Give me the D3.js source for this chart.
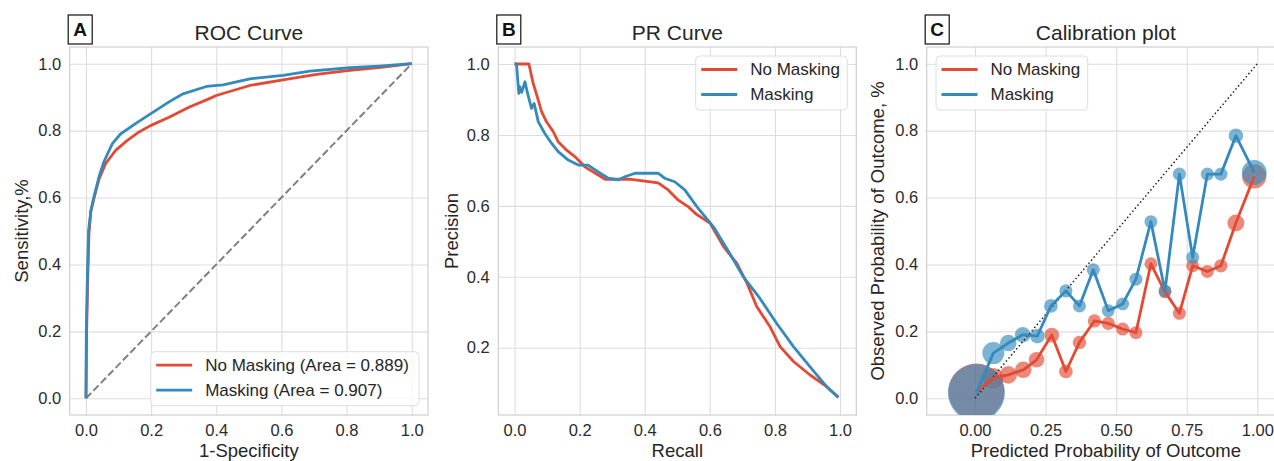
<!DOCTYPE html>
<html lang="en">
<head>
<meta charset="UTF-8">
<title>ROC / PR / Calibration</title>
<style>
    body { margin: 0; background: #fff; }
    svg { display: block; font-family: "Liberation Sans", Arial, sans-serif; }
    .tick text { fill: #2b2b2b; font-size: 16.5px; }
    .tick line { stroke: #dddddd; stroke-width: 1.1; }
    .domain { display: none; }
</style>
</head>
<body>
<script src="https://d3js.org/d3.v7.min.js"></script>
<script>
// ---- ROC curve ----
const rocFprNoMask = [0, 0.002, 0.005, 0.009, 0.015, 0.025, 0.04, 0.06, 0.091, 0.127, 0.163, 0.198, 0.255, 0.316, 0.377, 0.40, 0.503, 0.605, 0.708, 0.81, 0.912, 1.0];
const rocTprNoMask = [0, 0.2, 0.34, 0.49, 0.56, 0.6, 0.655, 0.701, 0.741, 0.771, 0.796, 0.815, 0.84, 0.87, 0.895, 0.905, 0.935, 0.952, 0.968, 0.98, 0.99, 1.0];
const rocFprMask = [0, 0.001, 0.004, 0.008, 0.015, 0.0245, 0.04, 0.055, 0.081, 0.106, 0.152, 0.198, 0.255, 0.298, 0.37, 0.421, 0.503, 0.605, 0.687, 0.81, 0.9, 1.0];
const rocTprMask = [0, 0.2, 0.352, 0.502, 0.56, 0.602, 0.662, 0.707, 0.761, 0.79, 0.821, 0.85, 0.886, 0.91, 0.932, 0.937, 0.955, 0.965, 0.978, 0.988, 0.993, 1.0];
const aucNoMask = 0.889;
const aucMask = 0.907;

// ---- PR curve ----
const prRecallNoMask = [0, 0.044, 0.057, 0.068, 0.083, 0.098, 0.119, 0.134, 0.16, 0.185, 0.216, 0.257, 0.278, 0.308, 0.359, 0.40, 0.441, 0.472, 0.503, 0.533, 0.559, 0.601, 0.642, 0.683, 0.714, 0.744, 0.785, 0.816, 0.857, 0.908, 0.959, 0.995];
const prPrecNoMask = [1.0, 1.0, 0.946, 0.913, 0.866, 0.837, 0.809, 0.781, 0.757, 0.739, 0.71, 0.687, 0.675, 0.675, 0.675, 0.67, 0.665, 0.645, 0.616, 0.598, 0.576, 0.551, 0.485, 0.438, 0.382, 0.316, 0.259, 0.203, 0.161, 0.123, 0.09, 0.06];
const prRecallMask = [0, 0.006, 0.013, 0.016, 0.022, 0.032, 0.04, 0.052, 0.06, 0.073, 0.093, 0.114, 0.134, 0.165, 0.196, 0.226, 0.257, 0.288, 0.318, 0.339, 0.37, 0.41, 0.441, 0.461, 0.492, 0.523, 0.56, 0.611, 0.652, 0.703, 0.754, 0.805, 0.857, 0.908, 0.959, 0.995];
const prPrecMask = [1.0, 1.0, 0.917, 0.936, 0.92, 0.95, 0.917, 0.875, 0.889, 0.837, 0.804, 0.776, 0.753, 0.729, 0.715, 0.715, 0.696, 0.678, 0.673, 0.682, 0.692, 0.692, 0.692, 0.678, 0.668, 0.645, 0.598, 0.541, 0.48, 0.40, 0.339, 0.269, 0.203, 0.146, 0.09, 0.06];

// ---- Calibration (mean predicted, observed fraction, bin count) ----
const calPredNoMask = [0.005, 0.065, 0.118, 0.171, 0.218, 0.272, 0.322, 0.37, 0.423, 0.472, 0.523, 0.57, 0.623, 0.673, 0.724, 0.771, 0.823, 0.871, 0.924, 0.989];
const calObsNoMask = [0.02, 0.06, 0.07, 0.085, 0.115, 0.189, 0.08, 0.167, 0.231, 0.224, 0.207, 0.196, 0.402, 0.318, 0.254, 0.396, 0.379, 0.396, 0.524, 0.663];
const calCountNoMask = [2180, 290, 215, 190, 170, 150, 130, 125, 122, 120, 118, 118, 116, 115, 118, 116, 118, 122, 200, 410];
const calPredMask = [0.005, 0.065, 0.118, 0.169, 0.221, 0.269, 0.322, 0.37, 0.419, 0.472, 0.523, 0.57, 0.623, 0.673, 0.724, 0.771, 0.823, 0.871, 0.924, 0.989];
const calObsMask = [0.017, 0.135, 0.165, 0.19, 0.186, 0.276, 0.321, 0.276, 0.384, 0.262, 0.282, 0.356, 0.528, 0.321, 0.67, 0.421, 0.67, 0.67, 0.785, 0.675];
const calCountMask = [2260, 336, 190, 170, 150, 130, 120, 118, 118, 116, 115, 118, 116, 115, 118, 116, 118, 120, 145, 430];

const seriesNames = ["No Masking", "Masking"];
const colors = ["#E24A33", "#348ABD"];

const ticks10 = [0, 0.2, 0.4, 0.6, 0.8, 1.0];
const ticksPR = [0.2, 0.4, 0.6, 0.8, 1.0];
const ticksCal = [0, 0.25, 0.5, 0.75, 1.0];

const svg = d3.select("body").append("svg").attr("width", 1274).attr("height", 461);
const txt = "#262626";

function zip(a, b) { return a.map((v, i) => [v, b[i]]); }

function panel(o) {
    const x = d3.scaleLinear().domain(o.xd).range([o.left, o.right]);
    const y = d3.scaleLinear().domain(o.yd).range([o.bottom, o.top]);
    const g = svg.append("g");
    const h = o.bottom - o.top, w = o.right - o.left;

    g.append("g").attr("transform", `translate(0,${o.bottom})`)
        .call(d3.axisBottom(x).tickValues(o.xt).tickFormat(d3.format(o.xf)).tickSize(-h).tickPadding(9));
    g.append("g").attr("transform", `translate(${o.left},0)`)
        .call(d3.axisLeft(y).tickValues(o.yt).tickFormat(d3.format(".1f")).tickSize(-w).tickPadding(8.5));

    g.append("rect").attr("x", o.left).attr("y", o.top).attr("width", w).attr("height", h)
        .attr("fill", "none").attr("stroke", "#cfcfcf").attr("stroke-width", 1.2);

    const clipId = "clip" + o.id;
    svg.append("clipPath").attr("id", clipId).append("rect")
        .attr("x", o.left).attr("y", o.top).attr("width", w).attr("height", h);
    const plot = g.append("g").attr("clip-path", `url(#${clipId})`);

    // titles and labels
    const cx = (o.left + o.right) / 2;
    g.append("text").attr("x", cx).attr("y", 40).attr("text-anchor", "middle")
        .attr("font-size", 21).attr("fill", txt).text(o.title);
    g.append("text").attr("x", cx).attr("y", 457).attr("text-anchor", "middle")
        .attr("font-size", 18.5).attr("fill", txt).text(o.xlabel);
    g.append("text").attr("transform", `translate(${o.ylx},${(o.top + o.bottom) / 2}) rotate(-90)`)
        .attr("text-anchor", "middle").attr("font-size", 18.5).attr("fill", txt).text(o.ylabel);

    // panel letter
    g.append("rect").attr("x", o.left - 1.5).attr("y", 15).attr("width", 24).attr("height", 29)
        .attr("fill", "#fff").attr("stroke", "#111").attr("stroke-width", 1.2);
    g.append("text").attr("x", o.left + 10.5).attr("y", 35.5).attr("text-anchor", "middle")
        .attr("font-size", 19).attr("font-weight", "bold").attr("fill", "#111").text(o.letter);

    return { g, plot, x, y };
}

function legend(g, lx, ly, w, labels) {
    g.append("rect").attr("x", lx).attr("y", ly).attr("width", w).attr("height", 54)
        .attr("rx", 4).attr("fill", "#fff").attr("fill-opacity", 0.8)
        .attr("stroke", "#dedede").attr("stroke-width", 1);
    labels.forEach((lab, i) => {
        const ry = ly + 13.5 + i * 25;
        g.append("line").attr("x1", lx + 5.5).attr("x2", lx + 41.5).attr("y1", ry).attr("y2", ry)
            .attr("stroke", colors[i]).attr("stroke-width", 2.8);
        g.append("text").attr("x", lx + 54.5).attr("y", ry).attr("dy", "0.35em")
            .attr("font-size", 17).attr("fill", txt).text(lab);
    });
}

function curve(plot, p, data, color) {
    const line = d3.line().x(d => p.x(d[0])).y(d => p.y(d[1]));
    plot.append("path").datum(data).attr("d", line).attr("fill", "none")
        .attr("stroke", color).attr("stroke-width", 2.8).attr("stroke-linejoin", "round");
}

// ---- A: ROC ----
const pa = panel({ id: "A", letter: "A", left: 69.7, right: 428, top: 47, bottom: 415,
    xd: [-0.05, 1.05], yd: [-0.05, 1.05], xt: ticks10, yt: ticks10, xf: ".1f",
    title: "ROC Curve", xlabel: "1-Specificity", ylabel: "Sensitivity,%", ylx: 28 });
pa.plot.append("line").attr("x1", pa.x(0)).attr("y1", pa.y(0)).attr("x2", pa.x(1)).attr("y2", pa.y(1))
    .attr("stroke", "#808080").attr("stroke-width", 2).attr("stroke-dasharray", "7.4,3.2");
curve(pa.plot, pa, zip(rocFprNoMask, rocTprNoMask), colors[0]);
curve(pa.plot, pa, zip(rocFprMask, rocTprMask), colors[1]);
legend(pa.g, 150.7, 351.7, 268.3, [
    `${seriesNames[0]} (Area = ${aucNoMask.toFixed(3)})`,
    `${seriesNames[1]} (Area = ${aucMask.toFixed(3)})`]);

// ---- B: PR ----
const pb = panel({ id: "B", letter: "B", left: 498.3, right: 856.3, top: 47, bottom: 415,
    xd: [-0.05, 1.05], yd: [0.0102, 1.048], xt: ticks10, yt: ticksPR, xf: ".1f",
    title: "PR Curve", xlabel: "Recall", ylabel: "Precision", ylx: 458 });
curve(pb.plot, pb, zip(prRecallNoMask, prPrecNoMask), colors[0]);
curve(pb.plot, pb, zip(prRecallMask, prPrecMask), colors[1]);
legend(pb.g, 695.7, 56, 151.6, seriesNames);

// ---- C: Calibration ----
const pc = panel({ id: "C", letter: "C", left: 926.7, right: 1285, top: 47, bottom: 415,
    xd: [-0.171, 1.098], yd: [-0.05, 1.05], xt: ticksCal, yt: ticks10, xf: ".2f",
    title: "Calibration plot", xlabel: "Predicted Probability of Outcome",
    ylabel: "Observed Probability of Outcome, %", ylx: 884 });
const r = d3.scaleSqrt().domain([0, 2500]).range([0, 30]);
[[calPredNoMask, calObsNoMask, calCountNoMask], [calPredMask, calObsMask, calCountMask]].forEach((s, k) => {
    pc.plot.append("g").selectAll("circle")
        .data(s[0].map((v, i) => ({ x: v, y: s[1][i], n: s[2][i] })))
        .enter().append("circle")
        .attr("cx", d => pc.x(d.x)).attr("cy", d => pc.y(d.y)).attr("r", d => r(d.n))
        .attr("fill", colors[k]).attr("fill-opacity", 0.65);
});
pc.plot.append("line").attr("x1", pc.x(0)).attr("y1", pc.y(0)).attr("x2", pc.x(1)).attr("y2", pc.y(1))
    .attr("stroke", "#222").attr("stroke-width", 1.5).attr("stroke-dasharray", "1.5,2.5");
curve(pc.plot, pc, zip(calPredNoMask, calObsNoMask), colors[0]);
curve(pc.plot, pc, zip(calPredMask, calObsMask), colors[1]);
legend(pc.g, 936, 56, 151.7, seriesNames);
</script>
</body>
</html>
